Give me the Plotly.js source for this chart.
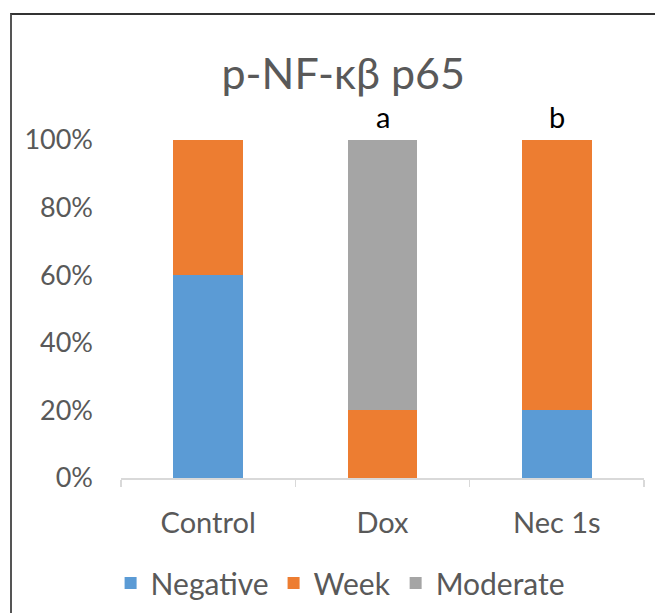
<!DOCTYPE html>
<html>
<head>
<meta charset="utf-8">
<script src="https://cdn.plot.ly/plotly-3.0.1.min.js"></script>
<style>
html,body{margin:0;padding:0;background:#fff;}
#wrap{position:relative;width:655px;height:613px;overflow:hidden;}
#frame{position:absolute;left:10px;top:13px;width:700px;height:700px;border-left:2px solid #555555;border-top:2px solid #333333;pointer-events:none;}
#chart{position:absolute;left:0;top:0;width:655px;height:613px;}
</style>
</head>
<body>
<div id="wrap"><div id="chart"></div><div id="frame"></div></div>
<script>
const categories = ["Control", "Dox", "Nec 1s"];
const negative = [60, 0, 20];
const week = [40, 20, 80];
const moderate = [0, 80, 0];
const seriesNames = ["Negative", "Week", "Moderate"];
const seriesColors = ["#5B9BD5", "#ED7D31", "#A5A5A5"];
const yTickVals = [0, 20, 40, 60, 80, 100];
const yTickText = ["0%", "20%", "40%", "60%", "80%", "100%"];
const letters = ["", "a", "b"];

const FONT = "Lato, 'Open Sans', sans-serif";
const values = [negative, week, moderate];
const traces = values.map((v, i) => ({
  type: "bar",
  name: seriesNames[i],
  x: categories,
  y: v,
  marker: {color: seriesColors[i], line: {width: 0}},
  hoverinfo: "skip"
}));

const annotations = categories.map((c, i) => ({
  x: c, y: 100, xref: "x", yref: "y",
  text: letters[i], showarrow: false,
  yanchor: "bottom", yshift: 4,
  font: {family: FONT, size: 29, color: "#000000"}
})).filter(a => a.text);

const layout = {
  width: 655, height: 613,
  margin: {l: 121, r: 11, t: 140, b: 135, autoexpand: false},
  paper_bgcolor: "#ffffff", plot_bgcolor: "#ffffff",
  barmode: "stack", bargap: 0.6,
  title: {text: "p-NF-κβ p65", x: 0.524, xanchor: "center", y: 0.88, yanchor: "middle", yref: "container",
          font: {family: FONT, size: 43, color: "#595959"}},
  xaxis: {
    type: "category", showgrid: false, zeroline: false,
    showline: true, linecolor: "#D9D9D9", linewidth: 1.5,
    ticks: "outside", tickson: "boundaries", ticklen: 7, tickcolor: "#D9D9D9", tickwidth: 1.5,
    ticklabelstandoff: 19,
    tickfont: {family: FONT, size: 29, color: "#595959"}
  },
  yaxis: {
    range: [0, 100], showgrid: false, zeroline: false, showline: false, ticks: "",
    tickvals: yTickVals, ticktext: yTickText, ticklabelstandoff: 27,
    tickfont: {family: FONT, size: 27, color: "#595959"}
  },
  showlegend: true,
  legend: {orientation: "h", x: 0.52, xanchor: "center", xref: "container",
           y: 0.049, yanchor: "middle", yref: "container",
           font: {family: FONT, size: 30, color: "#595959"}, itemwidth: 30, tracegroupgap: 0,
           traceorder: "normal"},
  annotations: annotations
};

Plotly.newPlot("chart", traces, layout, {displayModeBar: false, staticPlot: true});
</script>
</body>
</html>
